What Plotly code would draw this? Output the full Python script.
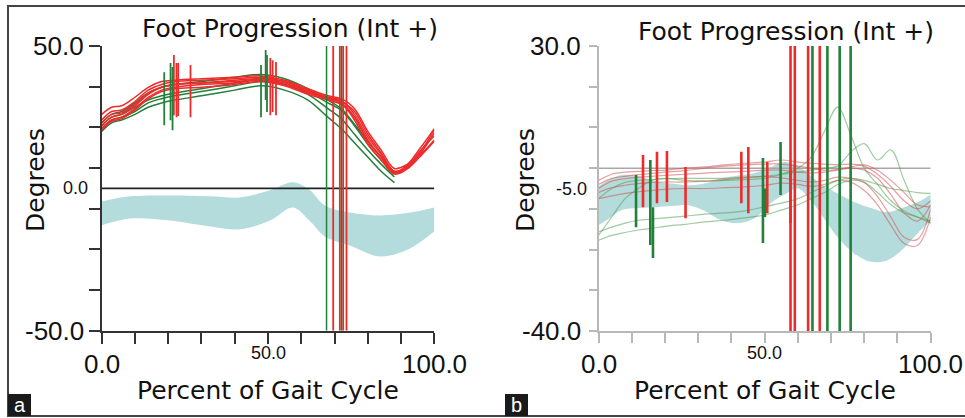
import plotly.graph_objects as go

W, H = 965, 418

# ---------------- Panel a data ----------------
a_x = [0, 3, 6, 10, 14, 18, 22, 30, 40, 48, 55, 62, 68, 72, 76, 80, 84, 88, 92, 96, 100]
a_red = [
    [24, 27, 27.5, 30.5, 34.5, 36.5, 37.5, 38, 38.5, 39, 37.5, 34.5, 32, 31, 26, 18, 12, 6, 7.5, 12.5, 19.5],
    [22, 25, 26, 29, 33, 35.5, 36.5, 37, 37.5, 38, 36.5, 33.5, 31.5, 30, 24, 15.5, 10, 5, 7, 13, 20.5],
    [26, 28.5, 29, 32, 35.5, 37.5, 38, 38.5, 39, 39.5, 38, 35, 32.5, 31.5, 28, 20, 13.5, 7, 8.5, 12, 17],
    [21, 24, 25, 28, 32, 34.5, 35.5, 36.5, 37, 38, 36.5, 34, 32, 30.5, 27, 19, 12.5, 6, 8, 13.5, 18.5],
    [23, 26, 26.5, 29.5, 33.5, 35.5, 36.5, 37, 38, 38.5, 37, 34, 31.5, 30, 25, 16.5, 11, 5.5, 7, 11.5, 16.5],
    [20.5, 23.5, 24.5, 27.5, 31.5, 34, 35, 35.5, 36.5, 37.5, 36, 33, 31, 29.5, 25, 17, 11, 5.5, 8.5, 14.5, 21],
]
a_green_x = [0, 3, 6, 10, 14, 18, 22, 30, 40, 48, 55, 62, 68, 72, 76, 80, 84, 88]
a_green = [
    [23, 26, 27, 30, 33.5, 35.5, 36.5, 37.5, 39, 40, 38.5, 35, 31, 28, 22.5, 16.5, 11, 5.5],
    [21, 24, 25, 27, 30, 31.5, 32.5, 34, 36, 37.5, 36.5, 33, 28, 24.5, 19, 13.5, 8.5, 4],
    [22, 25, 26, 28.5, 31, 32.5, 33.5, 35, 37, 38.5, 37.5, 34, 30, 27.5, 22, 15.5, 10, 5],
    [20, 23, 24, 26, 28.5, 30, 31, 32.5, 34.5, 36, 34.5, 31, 25, 21, 16, 11, 6, 2],
]
a_band_x = [0, 8.5, 20.5, 32.6, 41.6, 50.6, 57.5, 62.6, 67.1, 74.6, 83.7, 92.7, 100]
a_band_hi = [-4.6, -2.8, -2.5, -2.8, -3.2, -0.7, 2.1, -0.7, -6.0, -8.5, -9.5, -8.5, -6.7]
a_band_lo = [-13.0, -10.6, -11.3, -13.4, -14.4, -11.3, -6.7, -11.5, -16.9, -20.1, -23.9, -21.1, -15.1]
a_fo_red = [69.6, 71.6, 72.6, 73.6]
a_fo_green = [67.6, 72.1]
a_ev_red_x = [21.7, 22.5, 23.0, 26.7, 50.7, 51.4, 52.4]
a_ev_red_top = [46.8, 44.0, 44.0, 43.3, 45.8, 45.0, 44.4]
a_ev_red_bot = [25.7, 25.0, 25.4, 25.0, 25.7, 26.8, 25.7]
a_ev_green_x = [18.8, 20.7, 21.3, 47.9, 49.3, 49.7]
a_ev_green_top = [40.8, 44.0, 42.6, 43.3, 48.6, 46.8]
a_ev_green_bot = [22.2, 23.9, 20.4, 25.0, 31.0, 26.8]
a_yticks = [-50, -35.71, -21.43, -7.14, 7.14, 21.43, 35.71, 50]
a_xticks = [0, 10, 20, 30, 40, 50, 60, 70, 80, 90, 100]

# ---------------- Panel b data ----------------
b_x = [0, 4, 8, 12, 16, 20, 26, 32, 38, 44, 50, 55, 60, 64, 68, 72, 76, 80, 84, 88, 92, 96, 100]
b_red = [
    [-3.0, -1.5, -1.0, -0.8, -0.6, -0.5, 0.0, 0.3, 0.8, 1.2, 1.5, 2.0, 1.5, 1.2, 1.0, 0.8, 1.0, 0.5, -1.5, -4.5, -8.0, -10.0, -8.0],
    [-5.0, -3.2, -2.6, -2.2, -2.0, -1.8, -1.5, -1.2, -1.0, -0.8, -0.5, -0.5, -1.0, -1.2, -1.0, -0.5, 0.0, -0.5, -2.5, -6.5, -11.0, -13.0, -9.0],
    [-6.0, -4.8, -4.2, -3.8, -3.5, -3.4, -3.4, -3.2, -2.8, -2.4, -2.0, -2.4, -3.0, -3.4, -3.0, -2.2, -2.5, -3.5, -7.0, -12.0, -17.0, -17.5, -10.0],
    [-7.5, -6.8, -6.2, -5.8, -5.5, -5.2, -5.0, -5.0, -4.8, -4.6, -4.2, -3.7, -4.0, -4.5, -4.0, -3.0, -3.5, -5.5, -9.0, -14.0, -18.5, -19.0, -12.0],
    [-4.0, -2.5, -2.0, -1.6, -1.3, -1.0, -0.6, 0.0, 0.5, 0.8, 1.0, 1.0, 0.5, 0.0, -0.5, -0.3, 0.3, 0.8, -0.5, -3.0, -6.0, -9.0, -9.5],
]
b_green = [
    [-16.5, -12.0, -7.5, -5.0, -3.0, -2.5, -3.0, -3.2, -3.0, -2.8, -2.5, -1.5, 0.0, 2.7, 9.0, 15.0, 8.0, 0.0, -4.0, -8.0, -10.5, -12.0, -13.5],
    [-7.5, -5.0, -3.5, -3.0, -2.8, -2.6, -2.5, -2.5, -2.5, -2.2, -2.0, -1.5, -1.0, -0.5, 0.0, 0.5, 4.0, 6.0, 2.0, 4.5, -3.0, -10.0, -13.5],
    [-15.7, -14.5, -13.5, -12.8, -12.5, -12.2, -11.8, -11.3, -11.0, -10.5, -9.5, -8.6, -7.5, -6.0, -4.5, -3.0, -2.5, -3.0, -4.0, -5.0, -5.5, -6.0, -6.2],
    [-17.7, -16.5, -15.8, -15.2, -14.8, -14.3, -13.8, -13.2, -12.8, -12.2, -11.5, -10.3, -9.0, -7.5, -6.0, -4.0, -3.0, -3.5, -6.0, -9.0, -11.0, -12.0, -13.0],
]
b_band_x = [0, 3, 7, 12, 17, 22, 27, 32, 37, 42, 47, 52, 56, 60, 64, 68, 72, 77, 82, 87, 92, 97, 100]
b_band_hi = [-4.5, -3.0, -1.7, -2.0, -3.2, -3.8, -4.2, -3.8, -2.5, -1.8, -1.2, 0.3, 1.5, 0.5, -2.0, -4.5, -6.2, -8.3, -9.8, -10.8, -9.6, -8.0, -6.5]
b_band_lo = [-14.0, -12.5, -10.3, -9.8, -9.6, -9.3, -9.1, -10.5, -12.8, -13.5, -12.3, -8.5, -6.5, -5.0, -8.0, -12.5, -17.0, -21.0, -23.0, -22.6, -19.6, -15.2, -13.0]
b_fo_red = [57.8, 59.1, 63.1, 66.6]
b_fo_green = [64.4, 68.9, 72.6, 75.9]
b_ev_red_x = [13.4, 17.6, 20.6, 26.2, 43.0, 45.1, 50.8]
b_ev_red_top = [3.2, 4.0, 4.2, 0.3, 4.0, 5.2, 1.5]
b_ev_red_bot = [-9.6, -8.6, -8.3, -12.3, -8.6, -11.1, -11.1]
b_ev_green_x = [11.3, 15.6, 16.4, 49.5, 50.1, 54.8]
b_ev_green_top = [-1.7, 2.0, -9.6, 2.5, -5.0, 6.4]
b_ev_green_bot = [-14.5, -18.9, -22.1, -18.4, -12.0, -6.6]
b_ev_gray_x = [57.8]
b_ev_gray_top = [-0.5]
b_ev_gray_bot = [-13.5]
b_yticks = [-40, -30, -20, -10, 0, 10, 20, 30]
b_xticks = [0, 10, 20, 30, 40, 50, 60, 70, 80, 90, 100]

# ---------------- helpers ----------------
RED = "#ee2b2b"
GREEN = "#22803a"
BAND = "#b4dcdc"
TICKFONT = "Liberation Sans, Arial, sans-serif"
TITLEFONT = "DejaVu Sans, Verdana, sans-serif"

fig = go.Figure()


def segs(xs, tops, bots):
    X, Y = [], []
    for x, t, b in zip(xs, tops, bots):
        X += [x, x, None]
        Y += [t, b, None]
    return X, Y


def add_band(xs, lo, hi, xa, ya):
    fig.add_trace(go.Scatter(x=xs, y=lo, mode="lines", line=dict(width=0, shape="spline"),
                             xaxis=xa, yaxis=ya, hoverinfo="skip", showlegend=False))
    fig.add_trace(go.Scatter(x=xs, y=hi, mode="lines", line=dict(width=0, shape="spline"),
                             fill="tonexty", fillcolor=BAND,
                             xaxis=xa, yaxis=ya, hoverinfo="skip", showlegend=False))


def add_curve(xs, ys, color, width, xa, ya):
    fig.add_trace(go.Scatter(x=xs, y=ys, mode="lines", line=dict(color=color, width=width, shape="spline"),
                             xaxis=xa, yaxis=ya, hoverinfo="skip", showlegend=False))


def add_segs(xs, tops, bots, color, width, xa, ya):
    X, Y = segs(xs, tops, bots)
    fig.add_trace(go.Scatter(x=X, y=Y, mode="lines", line=dict(color=color, width=width),
                             xaxis=xa, yaxis=ya, hoverinfo="skip", showlegend=False))


# ---------------- panel a ----------------
add_band(a_band_x, a_band_lo, a_band_hi, "x", "y")
fig.add_trace(go.Scatter(x=[a_xticks[0], a_xticks[-1]], y=[0, 0], mode="lines",
                         line=dict(color="#222", width=1.6), xaxis="x", yaxis="y",
                         hoverinfo="skip", showlegend=False))
for ys in a_green:
    add_curve(a_green_x, ys, GREEN, 1.5, "x", "y")
for ys in a_red:
    add_curve(a_x, ys, RED, 1.5, "x", "y")
add_segs(a_ev_green_x, a_ev_green_top, a_ev_green_bot, GREEN, 1.8, "x", "y")
add_segs(a_ev_red_x, a_ev_red_top, a_ev_red_bot, RED, 1.8, "x", "y")
add_segs(a_fo_red, [a_yticks[-1]] * len(a_fo_red), [a_yticks[0]] * len(a_fo_red), RED, 1.8, "x", "y")
add_segs(a_fo_green, [a_yticks[-1]] * len(a_fo_green), [a_yticks[0]] * len(a_fo_green), GREEN, 1.5, "x", "y")

# ---------------- panel b ----------------
add_band(b_band_x, b_band_lo, b_band_hi, "x2", "y2")
fig.add_trace(go.Scatter(x=[b_xticks[0], b_xticks[-1]], y=[0, 0], mode="lines",
                         line=dict(color="#a8a8a8", width=1.5), xaxis="x2", yaxis="y2",
                         hoverinfo="skip", showlegend=False))
for ys in b_green:
    add_curve(b_x, ys, "rgba(80,160,80,0.55)", 1.2, "x2", "y2")
for ys in b_red:
    add_curve(b_x, ys, "rgba(210,80,80,0.55)", 1.2, "x2", "y2")
add_segs(b_ev_red_x, b_ev_red_top, b_ev_red_bot, RED, 2.6, "x2", "y2")
add_segs(b_ev_green_x, b_ev_green_top, b_ev_green_bot, GREEN, 2.6, "x2", "y2")
add_segs(b_ev_gray_x, b_ev_gray_top, b_ev_gray_bot, "#666", 2.6, "x2", "y2")
add_segs(b_fo_red, [b_yticks[-1]] * len(b_fo_red), [b_yticks[0]] * len(b_fo_red), RED, 2.6, "x2", "y2")
add_segs(b_fo_green, [b_yticks[-1]] * len(b_fo_green), [b_yticks[0]] * len(b_fo_green), GREEN, 2.6, "x2", "y2")

# ---------------- axes ----------------
axA = "#333333"
axB = "#b8b8b8"
fig.update_layout(
    width=W, height=H, margin=dict(l=0, r=0, t=0, b=0),
    paper_bgcolor="white", plot_bgcolor="white", showlegend=False,
    xaxis=dict(domain=[101.7 / W, 434.3 / W], range=[0, 100], showgrid=False, zeroline=False,
               showline=True, linecolor=axA, linewidth=1.6, ticks="outside", ticklen=11,
               tickwidth=1.6, tickcolor=axA, tickvals=a_xticks, showticklabels=False, anchor="y"),
    yaxis=dict(domain=[1 - 330.7 / H, 1 - 46 / H], range=[-50, 50], showgrid=False, zeroline=False,
               showline=True, linecolor=axA, linewidth=1.6, ticks="outside", ticklen=11,
               tickwidth=1.6, tickcolor=axA, tickvals=a_yticks, showticklabels=False, anchor="x"),
    xaxis2=dict(domain=[598.5 / W, 930.7 / W], range=[0, 100], showgrid=False, zeroline=False,
                showline=True, linecolor=axB, linewidth=1.6, ticks="outside", ticklen=10,
                tickwidth=1.6, tickcolor=axB, tickvals=b_xticks, showticklabels=False, anchor="y2"),
    yaxis2=dict(domain=[1 - 331 / H, 1 - 46 / H], range=[-40, 30], showgrid=False, zeroline=False,
                showline=True, linecolor=axB, linewidth=1.6, ticks="outside", ticklen=8,
                tickwidth=1.6, tickcolor=axB, tickvals=b_yticks, showticklabels=False, anchor="x2"),
)

ann = []


def ylab(text, yv, yref, xref, size, shift):
    ann.append(dict(text=text, x=0, xref=xref + " domain", y=yv, yref=yref, xanchor="right",
                    yanchor="middle", xshift=shift, showarrow=False,
                    font=dict(family=TICKFONT, size=size, color="#111")))


def xlab(text, xv, xref, yref, size, shift):
    ann.append(dict(text=text, x=xv, xref=xref, y=0, yref=yref + " domain", xanchor="center",
                    yanchor="middle", yshift=shift, showarrow=False,
                    font=dict(family=TICKFONT, size=size, color="#111")))


# panel a tick labels
ylab("50.0", 50, "y", "x", 26, -16)
ylab("0.0", 0, "y", "x", 18, -12)
ylab("-50.0", -50, "y", "x", 26, -16)
xlab("0.0", 0, "x", "y", 26, -33)
xlab("50.0", 50, "x", "y", 18, -22)
xlab("100.0", 100, "x", "y", 26, -33)
# panel b tick labels
ylab("30.0", 30, "y2", "x2", 26, -16)
ylab("-5.0", -5, "y2", "x2", 18, -10)
ylab("-40.0", -40, "y2", "x2", 26, -16)
xlab("0.0", 0, "x2", "y2", 26, -33)
xlab("50.0", 50, "x2", "y2", 18, -22)
xlab("100.0", 100, "x2", "y2", 26, -33)


def ptext(text, px, py, size, angle=0, color="#111", family=TITLEFONT):
    ann.append(dict(text=text, x=px / W, y=1 - py / H, xref="paper", yref="paper",
                    xanchor="center", yanchor="middle", showarrow=False, textangle=angle,
                    font=dict(family=family, size=size, color=color)))


ptext("Foot Progression (Int +)", 290, 29, 25)
ptext("Foot Progression (Int +)", 786, 31, 25)
ptext("Degrees", 35, 180, 25, -90)
ptext("Degrees", 525, 180, 25, -90)
ptext("Percent of Gait Cycle", 268, 390, 25)
ptext("Percent of Gait Cycle", 765, 390, 25)
ptext("a", 19.5, 405, 20, 0, "white", TICKFONT)
ptext("b", 516.5, 405, 20, 0, "white", TICKFONT)

shapes = [
    dict(type="rect", xref="paper", yref="paper", x0=8 / W, x1=1.02, y0=1 - 416 / H, y1=1 - 6 / H,
         line=dict(color="#444", width=2), fillcolor="rgba(0,0,0,0)", layer="below"),
    dict(type="rect", xref="paper", yref="paper", x0=8 / W, x1=31 / W, y0=1 - 416 / H, y1=1 - 394 / H,
         line=dict(width=0), fillcolor="#1a1a1a"),
    dict(type="rect", xref="paper", yref="paper", x0=505 / W, x1=528 / W, y0=1 - 416 / H, y1=1 - 394 / H,
         line=dict(width=0), fillcolor="#1a1a1a"),
]
fig.update_layout(annotations=ann, shapes=shapes)

fig.write_html("out.html", config={"displayModeBar": False},
               post_script="document.body.style.margin='0';document.body.style.overflow='hidden';")
